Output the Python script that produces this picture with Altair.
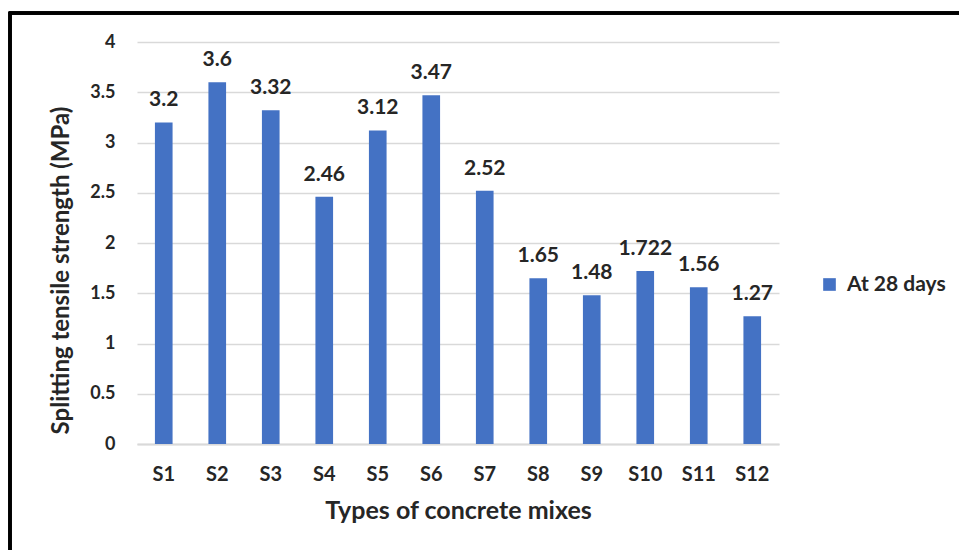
import altair as alt
import pandas as pd

# Splitting tensile strength of each concrete mix at 28 days
mixes = ["S1", "S2", "S3", "S4", "S5", "S6", "S7", "S8", "S9", "S10", "S11", "S12"]
strength = [3.2, 3.6, 3.32, 2.46, 3.12, 3.47, 2.52, 1.65, 1.48, 1.722, 1.56, 1.27]
series_name = "At 28 days"

df = pd.DataFrame({
    "mix": mixes,
    "strength": strength,
    "label": [str(v) for v in strength],
    "series": series_name,
})

FONT = "Lato"
TEXT = "#262626"
BLUE = "#4472C4"
GRID = "#D9D9D9"

x_enc = alt.X(
    "mix:N",
    sort=mixes,
    scale=alt.Scale(paddingInner=0.67, paddingOuter=0.335),
    axis=alt.Axis(
        title="Types of concrete mixes",
        labelAngle=0,
        labelFont=FONT, labelFontSize=20, labelFontWeight="bold", labelColor=TEXT,
        labelPadding=20,
        titleFont=FONT, titleFontSize=25, titleFontWeight="bold", titleColor=TEXT,
        titlePadding=14,
        ticks=False,
        domainColor=GRID, domainWidth=2,
    ),
)
y_enc = alt.Y(
    "strength:Q",
    scale=alt.Scale(domain=[0, 4], nice=False),
    axis=alt.Axis(
        title="Splitting tensile strength (MPa)",
        values=[0, 0.5, 1, 1.5, 2, 2.5, 3, 3.5, 4],
        format="~g",
        labelFont=FONT, labelFontSize=18, labelFontWeight="bold", labelColor=TEXT,
        labelPadding=22,
        titleFont=FONT, titleFontSize=24, titleFontWeight="bold", titleColor=TEXT,
        titlePadding=16, titleY=228,
        ticks=False, domain=False,
        gridColor=GRID, gridWidth=1.5,
    ),
)

bars = alt.Chart(df).mark_bar().encode(
    x=x_enc,
    y=y_enc,
    color=alt.Color(
        "series:N",
        scale=alt.Scale(range=[BLUE]),
        legend=alt.Legend(
            title=None,
            orient="none", legendX=682, legendY=232,
            symbolType="square", symbolSize=160, symbolStrokeWidth=0,
            labelFont=FONT, labelFontSize=21, labelFontWeight="bold", labelColor=TEXT,
            labelOffset=7,
        ),
    ),
)

labels = alt.Chart(df).mark_text(
    font=FONT, fontSize=21, fontWeight="bold", color=TEXT,
    baseline="alphabetic", dy=-16,
).encode(
    x=alt.X("mix:N", sort=mixes),
    y=alt.Y("strength:Q"),
    text="label:N",
)

# outer frame around the figure
frame = alt.Chart(df).mark_rect(
    fill=None, stroke="black", strokeWidth=2.5, clip=False
).encode(
    x=alt.value(-127), x2=alt.value(900),
    y=alt.value(-29), y2=alt.value(600),
)

chart = alt.layer(frame, bars, labels).properties(
    width=642, height=402,
    padding={"left": 137, "top": 42, "right": 180, "bottom": 106},
    autosize=alt.AutoSizeParams(type="none"),
    background="white",
).configure_view(stroke=None)

chart.save("out.html", embed_options={"renderer": "svg", "actions": False})
